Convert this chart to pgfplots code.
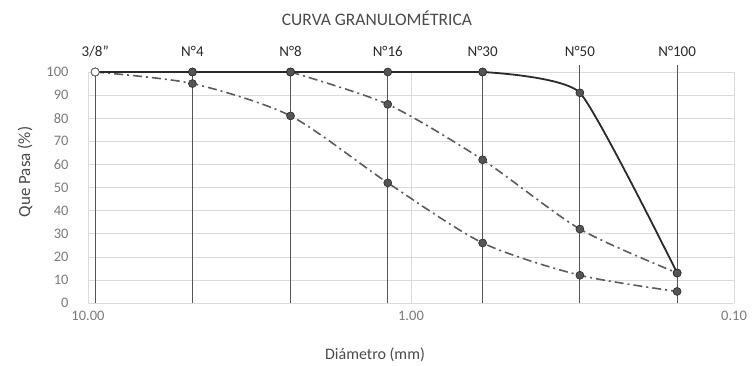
\documentclass[border=0pt]{standalone}
\usepackage{fontspec}
\setmainfont{Carlito}
\usepackage{pgfplots}
\pgfplotsset{compat=1.18}
\usetikzlibrary{calc}

\definecolor{ink}{HTML}{2A2A2A}
\definecolor{dotfill}{HTML}{555555}
\definecolor{dashgray}{HTML}{5C5C5C}
\definecolor{tickgray}{HTML}{7A7A7A}
\definecolor{labelgray}{HTML}{4A4A4A}

\pgfplotsset{
  dashdot curve/.style={draw=dashgray, line width=1.6pt,
    dash pattern=on 9pt off 4pt on 2pt off 4pt,
    mark=*, mark options={solid, fill=dotfill, draw=ink, line width=0.6pt}},
  solid curve/.style={draw=ink, line width=1.8pt,
    mark=*, mark options={solid, fill=dotfill, draw=ink, line width=0.6pt}},
}

\begin{document}
\begin{tikzpicture}
\begin{axis}[
  name=ax,
  scale only axis, width=646pt, height=231pt,
  xmode=log, x dir=reverse,
  xmin=0.1, xmax=10, ymin=0, ymax=100,
  axis line style={draw=none},
  major tick length=0pt, minor tick length=0pt,
  xtick={10,1,0.1}, xticklabels={10.00,1.00,0.10},
  ytick={0,10,...,100},
  ymajorgrids, xmajorgrids,
  grid style={black!14, line width=0.5pt},
  tick label style={font=\fontsize{14.5}{17}\selectfont, text=tickgray},
  yticklabel style={xshift=-16pt},
  xticklabel style={yshift=-5pt},
  /pgf/number format/assume math mode=true,
  clip=false,
  mark size=4pt,
]
% drop lines at each sieve
\addplot[ycomb, draw=ink!80, line width=1.1pt, mark=none]
  coordinates {(9.5,100)(4.75,100)(2.36,100)(1.18,100)(0.6,100)(0.3,103)(0.15,103)};

% lower curve
\addplot[dashdot curve, smooth, tension=0.45]
  coordinates {(9.5,100)(4.75,95)(2.36,81)(1.18,52)(0.6,26)(0.3,12)(0.15,5)};

% middle curve: flat run, then the falling branch
\addplot[dashdot curve, sharp plot]
  coordinates {(9.5,100)(4.75,100)(2.36,100)};
\addplot[dashdot curve, smooth, tension=0.45]
  coordinates {(2.36,100)(1.18,86)(0.6,62)(0.3,32)(0.15,13)};

% upper curve: flat run, then the falling branch
\addplot[solid curve, sharp plot]
  coordinates {(9.5,100)(4.75,100)(2.36,100)(1.18,100)(0.6,100)};
\addplot[solid curve, smooth, tension=0.3]
  coordinates {(0.6,100)(0.3,91)(0.15,13)};
\addplot[only marks, mark=*, mark options={fill=white, draw=ink!70, line width=0.8pt}]
  coordinates {(9.5,100)};

% sieve names
\foreach \d/\n in {9.5/{3/8"},4.75/{N°4},2.36/{N°8},1.18/{N°16},0.6/{N°30},0.3/{N°50},0.15/{N°100}}{
  \edef\tmp{\noexpand\node[anchor=base, yshift=16pt, text=ink,
    font=\noexpand\fontsize{15}{18}\noexpand\selectfont] at (axis cs:\d,100) {\n};}
  \tmp
}
\end{axis}

\node[text=labelgray, font=\fontsize{17.5}{20}\selectfont]
  at ($(ax.south west)+(289pt,285pt)$) {CURVA GRANULOMÉTRICA};
\node[text=labelgray, font=\fontsize{16}{19}\selectfont]
  at ($(ax.south west)+(287pt,-52pt)$) {Diámetro (mm)};
\node[text=labelgray, rotate=90, font=\fontsize{17}{20}\selectfont]
  at ($(ax.south west)+(-63pt,131pt)$) {Que Pasa (\%)};

\pgfresetboundingbox
\path[use as bounding box] ($(ax.south west)+(-88pt,-62pt)$) rectangle ($(ax.north east)+(18pt,72pt)$);
\end{tikzpicture}
\end{document}
